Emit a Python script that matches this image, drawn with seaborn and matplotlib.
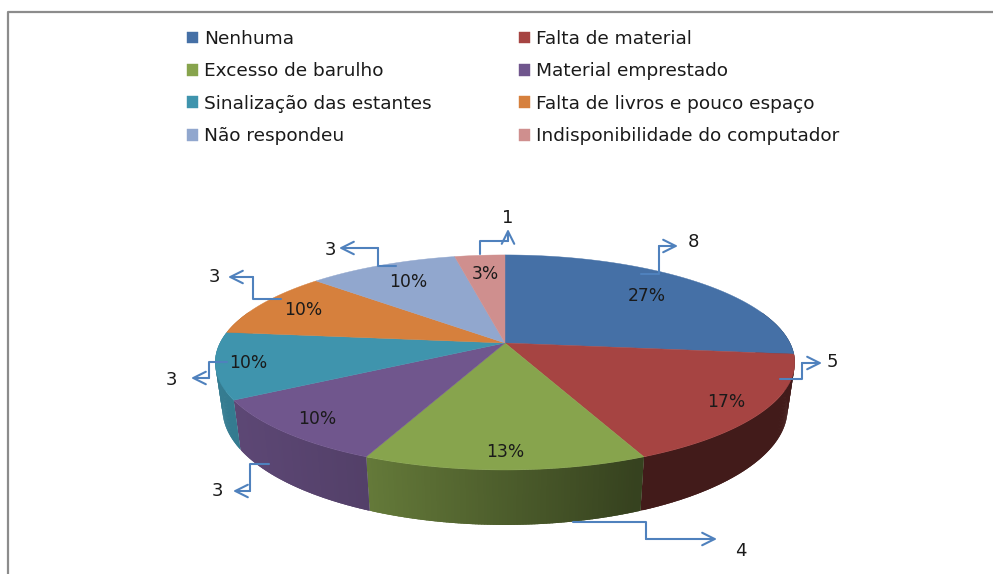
import numpy as np
import matplotlib
matplotlib.use('Agg')
import matplotlib.pyplot as plt
from matplotlib.patches import Polygon
import seaborn as sns

# dados do grafico
categorias = ['Nenhuma', 'Falta de material', 'Excesso de barulho', 'Material emprestado',
              'Sinalização das estantes', 'Falta de livros e pouco espaço', 'Não respondeu',
              'Indisponibilidade do computador']
valores = [8, 5, 4, 3, 3, 3, 3, 1]
cores = ['#4570A6', '#A64442', '#87A44D', '#70568D', '#3F94AD', '#D6803D', '#91A7CE', '#CF8F8E']

# posicao dos rotulos de porcentagem, fracao do raio
raio_rotulo = [0.73, 0.87, 0.88, 0.87, 0.89, 0.82, 0.76, 0.76]

# linhas de chamada (em pixels) e posicao do numero
chamadas = [
    [(641, 274), (659, 274), (659, 246), (678, 246)],
    [(780, 379), (802, 379), (802, 363), (822, 363)],
    [(573, 522), (646, 522), (646, 539), (717, 539)],
    [(269, 464), (250, 464), (250, 491), (233, 491)],
    [(227, 362), (209, 362), (209, 378), (191, 378)],
    [(281, 299), (253, 299), (253, 277), (228, 277)],
    [(396, 266), (378, 266), (378, 248), (339, 248)],
    [(480, 254), (480, 241), (508, 241), (508, 229)],
]
pos_numero = [(693, 242), (832, 362), (741, 551), (217, 491),
              (171, 380), (214, 277), (330, 250), (508, 218)]

sns.set_style('white')
plt.rcParams['font.family'] = ['DejaVu Sans']

# pizza em perspectiva
CX, CY = 505, 343
RX, RY = 285, 104
K = 0.181
ALTURA = 45
BASE_X = 0.975
AZUL = '#4F81BD'
TEXTO = '#1A1A1A'


def projeta(x, y):
    s = 1 / (1 + K * y)
    return CX + RX * x * s, CY - RY * y * s, s


def sombra(x):
    return np.interp(x, [215, 370, 640, 795], [0.84, 0.74, 0.40, 0.40])


fig = plt.figure(figsize=(9.93, 5.74), dpi=100)
ax = fig.add_axes([0, 0, 1, 1])
fatias, _ = ax.pie(valores, colors=cores, startangle=90, counterclock=False)
ax.set_aspect('auto')
ax.set_xlim(0, 993)
ax.set_ylim(574, 0)
ax.axis('off')

# moldura
ax.plot([8, 8, 993], [574, 12, 12], color='#8C8C8C', lw=1.6, clip_on=False, zorder=1)

# lateral de cada fatia, em tiras sobrepostas
for i, fatia in enumerate(fatias):
    for a in np.arange(fatia.theta1, fatia.theta2, 0.5):
        fim = min(a + 1.1, fatia.theta2)
        r0, r1 = np.radians(a), np.radians(fim)
        if np.sin(r0) > 0.3 and np.sin(r1) > 0.3:
            continue
        x0, y0, s0 = projeta(np.cos(r0), np.sin(r0))
        x1, y1, s1 = projeta(np.cos(r1), np.sin(r1))
        b0 = CX + (x0 - CX) * BASE_X
        b1 = CX + (x1 - CX) * BASE_X
        cor = np.array(matplotlib.colors.to_rgb(cores[i])) * sombra((x0 + x1) / 2)
        ax.add_patch(Polygon([(x0, y0), (x1, y1), (b1, y1 + ALTURA * s1), (b0, y0 + ALTURA * s0)],
                             facecolor=cor, edgecolor='none', zorder=2))

# topo, rotulos e chamadas
legenda = []
for i, fatia in enumerate(fatias):
    angulos = np.radians(np.linspace(fatia.theta1, fatia.theta2, 80))
    borda = [projeta(np.cos(a), np.sin(a))[:2] for a in angulos]
    topo = Polygon([(CX, CY)] + borda, closed=True, facecolor=cores[i], edgecolor=cores[i],
                   lw=0.3, zorder=3, label=categorias[i])
    ax.add_patch(topo)
    legenda.append(topo)
    fatia.remove()

    meio = np.radians((fatia.theta1 + fatia.theta2) / 2)
    px, py, _s = projeta(raio_rotulo[i] * np.cos(meio), raio_rotulo[i] * np.sin(meio))
    ax.text(px, py, f'{round(valores[i] / sum(valores) * 100)}%', ha='center', va='center',
            fontsize=12.3, color=TEXTO, zorder=5)

    pontos = chamadas[i]
    ax.plot([p[0] for p in pontos[:-1]], [p[1] for p in pontos[:-1]], color=AZUL, lw=1.5, zorder=6)
    ax.annotate('', xy=pontos[-1], xytext=pontos[-2], zorder=6,
                arrowprops=dict(arrowstyle='->,head_length=0.9,head_width=0.45', color=AZUL, lw=1.5,
                                shrinkA=0, shrinkB=0))
    ax.text(pos_numero[i][0], pos_numero[i][1], str(valores[i]), ha='center', va='center',
            fontsize=13, color=TEXTO, zorder=6)

# legenda em duas colunas, preenchida por linha
ordem = [0, 2, 4, 6, 1, 3, 5, 7]
ax.legend([legenda[i] for i in ordem], [categorias[i] for i in ordem], ncol=2, frameon=False,
          loc='upper left', bbox_to_anchor=(187, 30), bbox_transform=ax.transData,
          fontsize=13.3, borderpad=0, borderaxespad=0, handlelength=0.6, handleheight=0.6,
          handletextpad=0.33, columnspacing=4.7, labelspacing=0.78, labelcolor=TEXTO)

plt.savefig('out.png', dpi=100)
